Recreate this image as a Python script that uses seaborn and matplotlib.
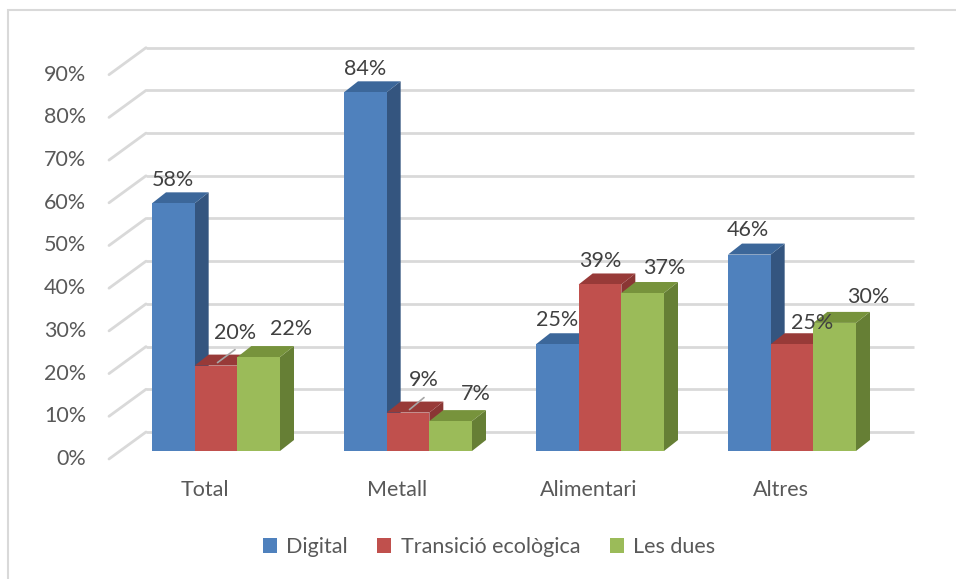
import numpy as np
import pandas as pd
import matplotlib
matplotlib.use('Agg')
import matplotlib.pyplot as plt
from matplotlib.transforms import offset_copy
from matplotlib.patches import Polygon, Rectangle, Patch
import seaborn as sns

# dades
sectors = ['Total', 'Metall', 'Alimentari', 'Altres']
series = ['Digital', 'Transició ecològica', 'Les dues']
digital = [58, 84, 25, 46]
transicio = [20, 9, 39, 25]
les_dues = [22, 7, 37, 30]
y_ticks = [0, 10, 20, 30, 40, 50, 60, 70, 80, 90]

front_colors = ['#4F81BD', '#C0504D', '#9BBB59']
side_colors = ['#34557F', '#8A3634', '#667F35']
top_colors = ['#3C679A', '#983A38', '#77933C']

# posicio de les etiquetes (pixels, respecte al cim de la barra)
label_offsets = [[(0, 23), (0, 23), (0, 24), (-1, 25)],
                 [(19, 33), (16, 33), (0, 23), (20, 21)],
                 [(32, 28), (25, 27), (22, 25), (34, 26)]]
leaders = {(1, 0): (19, 16), (1, 1): (16, 15)}

df = pd.DataFrame({'sector': sectors * 3,
                   'serie': np.repeat(series, len(sectors)),
                   'valor': digital + transicio + les_dues})

sns.set_style('white')
plt.rcParams['font.family'] = ['Lato', 'DejaVu Sans']
txt_gray = '#595959'
lbl_gray = '#404040'
fs = 15.5

W, H = 956, 579
fig = plt.figure(figsize=(W / 100, H / 100), dpi=100)
# pla de les barres: x -0.5..3.5 -> 120..888 px, y 0..90 -> 451..67 px
ax_px_h = 384.3
ax = fig.add_axes([120 / W, (H - 451) / H, 768 / W, ax_px_h / H])
sns.barplot(data=df, x='sector', y='valor', hue='serie', palette=front_colors,
            width=2 / 3, saturation=1, linewidth=0, ax=ax, legend=False)
ax.set_xlim(-0.5, 3.5)
ax.set_ylim(0, 90)
ax.axis('off')

px = 4 / 768          # 1 pixel en unitats x
py = 90 / ax_px_h     # 1 pixel en unitats y
ddx, ddy = 14 * px, 11 * py      # profunditat de les barres
bx, by = 26 * px, 19 * py        # paret del fons
fx, fy = -11 * px, -8 * py       # pla frontal

# graella (paret del fons + paret lateral)
grid_c = '#D9D9D9'
for v in y_ticks:
    ax.plot([-0.5 + bx, 3.5 + bx], [v + by, v + by], color=grid_c, lw=2,
            clip_on=False, zorder=0.5, solid_capstyle='butt')
    ax.plot([-0.5 + fx, -0.5 + bx], [v + fy, v + by], color=grid_c, lw=2,
            clip_on=False, zorder=0.5)
    ax.text(-0.5, v, f'{v}%', transform=offset_copy(ax.transData, fig, x=-34, y=-8, units='dots'),
            ha='right', va='center', fontsize=fs, color=txt_gray)

for i, s in enumerate(sectors):
    ax.text(i, 0, s, transform=offset_copy(ax.transData, fig, x=-11, y=-39, units='dots'),
            ha='center', va='center', fontsize=fs, color=txt_gray)

# cares laterals i superiors
bars = sorted([p for p in ax.patches if p.get_height() > 0], key=lambda p: p.get_x())
values = [digital, transicio, les_dues]
for k, p in enumerate(bars):
    x0 = p.get_x()
    w = p.get_width()
    h = p.get_height()
    x1 = x0 + w
    gi = int(round(x0 + w / 2))
    j = int(round((x0 + w / 2 - gi) / w)) + 1
    z = 2 + k * 0.01
    side = Polygon([(x1, 0), (x1 + ddx, ddy), (x1 + ddx, h + ddy), (x1, h)], closed=True,
                   facecolor=side_colors[j], edgecolor='none', zorder=z, clip_on=False)
    top = Polygon([(x0, h), (x0 + ddx, h + ddy), (x1 + ddx, h + ddy), (x1, h)], closed=True,
                  facecolor=top_colors[j], edgecolor='none', zorder=z, clip_on=False)
    ax.add_patch(side)
    ax.add_patch(top)
    p.set_zorder(z + 0.005)
    p.set_clip_on(False)

    dx, dy = label_offsets[j][gi]
    cx = x0 + w / 2
    ax.annotate(f'{values[j][gi]}%', xy=(cx, h), xytext=(dx, dy), textcoords='offset pixels',
                ha='center', va='center', fontsize=fs, color=lbl_gray, zorder=10,
                annotation_clip=False)
    if (j, gi) in leaders:
        ex, ey = leaders[(j, gi)]
        ax.annotate('', xy=(cx, h), xycoords=offset_copy(ax.transData, fig, x=1.5, y=3, units='dots'),
                    xytext=(ex - 1.5, ey - 3), textcoords='offset pixels',
                    arrowprops=dict(arrowstyle='-', color='#A6A6A6', lw=1.2, shrinkA=0, shrinkB=0),
                    annotation_clip=False, zorder=10)

handles = [Patch(facecolor=c, edgecolor='none') for c in front_colors]
fig.legend(handles, series, ncol=3, loc='center', bbox_to_anchor=(489 / W, 1 - 547 / H),
           frameon=False, fontsize=fs, handlelength=0.65, handleheight=0.65,
           handletextpad=0.42, columnspacing=1.4, labelcolor=txt_gray)

fig.add_artist(Rectangle((8 / W, -0.1), 1.2, (H - 10) / H + 0.1, transform=fig.transFigure,
                         fill=False, edgecolor='#D9D9D9', lw=1.5))

fig.savefig('out.png', dpi=100)
